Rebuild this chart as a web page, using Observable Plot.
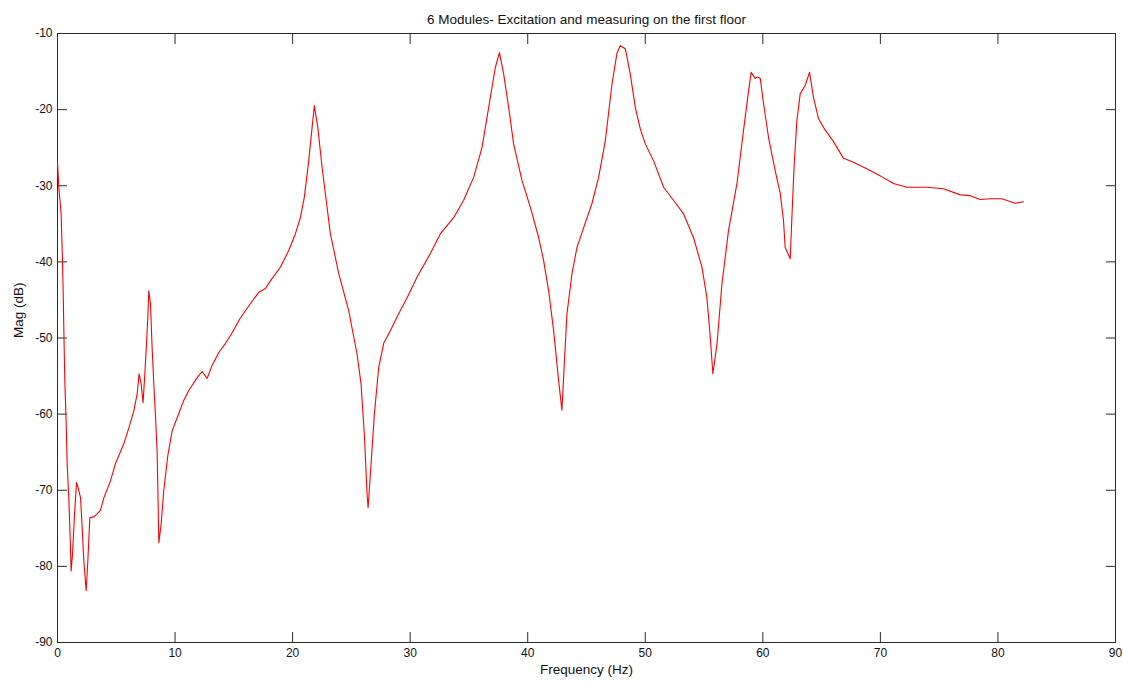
<!DOCTYPE html>
<html>
<head>
<meta charset="utf-8">
<script src="https://cdn.jsdelivr.net/npm/d3@7"></script>
<script src="https://cdn.jsdelivr.net/npm/@observablehq/plot@0.6"></script>
<style>
  html, body { margin: 0; padding: 0; background: #fff; }
  #chart svg { display: block; }
</style>
</head>
<body>
<div id="chart"></div>
<script>
const title = "6 Modules- Excitation and measuring on the first floor";
const xLabel = "Frequency (Hz)";
const yLabel = "Mag (dB)";
const xTicks = [0, 10, 20, 30, 40, 50, 60, 70, 80, 90];
const yTicks = [-90, -80, -70, -60, -50, -40, -30, -20, -10];

const freq = [0,0.11,0.31,0.43,0.48,0.54,0.62,0.74,0.82,0.96,1.05,1.16,1.28,1.45,1.62,1.76,1.96,2.1,2.24,2.44,2.58,2.75,3.09,3.37,3.66,3.94,4.5,4.93,5.64,6.07,6.49,6.78,6.94,7.11,7.28,7.43,7.57,7.68,7.77,7.91,8.05,8.19,8.33,8.48,8.62,8.82,9.04,9.38,9.75,10.17,10.74,11.17,11.88,12.3,12.73,13.15,13.72,14.29,14.86,15.5,16.4,17.12,17.69,18.11,18.96,19.67,20.24,20.66,21,21.37,21.66,21.85,22.14,22.51,22.93,23.21,23.92,24.77,25.48,25.82,26.1,26.33,26.42,26.62,26.96,27.32,27.75,28.32,29.02,29.74,30.59,31.72,32.57,33.7,34.55,35.4,36.11,36.82,37.24,37.59,37.95,38.38,38.8,39.51,40.22,40.93,41.35,41.78,42.2,42.63,42.91,43.11,43.34,43.77,44.19,44.76,45.47,46.03,46.6,47.17,47.59,47.87,48.3,48.72,49.15,49.57,50,50.7,51.56,52.4,53.26,54.1,54.82,55.24,55.53,55.75,56.1,56.52,57.08,57.8,58.36,58.79,59.01,59.35,59.55,59.78,60.06,60.49,61.05,61.48,61.76,61.9,62.33,62.47,62.67,62.9,63.18,63.61,63.97,64.31,64.74,65.31,66.01,66.86,67.71,69.13,69.98,71.11,72.25,73.95,75.37,76.79,77.64,78.49,79.34,80.33,81.46,82.17];
const mag = [-26.9,-30.2,-33.7,-40.2,-43.8,-49,-55.6,-61.2,-66.5,-71,-74.9,-80.6,-78.3,-73.1,-69,-69.7,-71,-74.9,-79.3,-83.2,-79.3,-73.6,-73.5,-73.1,-72.6,-71,-68.8,-66.5,-63.9,-61.8,-59.6,-57.3,-54.7,-56,-58.5,-54.7,-50.8,-47.3,-43.8,-45.5,-51.3,-56,-60,-65.2,-76.9,-74.4,-70,-65.5,-62.2,-60.5,-58.2,-56.9,-55.2,-54.4,-55.3,-53.6,-51.9,-50.7,-49.3,-47.5,-45.5,-44,-43.5,-42.5,-40.7,-38.5,-36.3,-34.2,-31.5,-26.7,-22.3,-19.5,-22.3,-27.6,-32.8,-36.3,-41.5,-46.4,-52.1,-56,-62.6,-70.4,-72.3,-67.8,-59.9,-53.9,-50.7,-49,-46.8,-44.7,-42,-38.9,-36.3,-34.2,-31.9,-28.9,-25,-18.4,-14.5,-12.5,-15.3,-19.7,-24.5,-29.3,-32.8,-36.8,-39.8,-43.8,-49,-55.6,-59.5,-53.4,-46.8,-41.5,-38.1,-35.5,-32.3,-28.9,-24.1,-16.6,-12.6,-11.6,-12,-15.3,-19.7,-22.5,-24.5,-26.7,-30.2,-31.9,-33.7,-36.8,-40.7,-44.7,-49.9,-54.7,-50.8,-42.9,-35.9,-29.7,-22.7,-17.5,-15.1,-15.9,-15.7,-15.9,-19.2,-23.7,-28,-31,-34.6,-38.1,-39.6,-34.2,-27.1,-21.4,-17.9,-16.8,-15.1,-18.4,-21.2,-22.7,-24.2,-26.4,-26.9,-28,-28.7,-29.7,-30.2,-30.2,-30.4,-31.2,-31.3,-31.8,-31.7,-31.7,-32.3,-32.1];

const data = freq.map((f, i) => ({f, m: mag[i]}));
const axisColor = "#2a2a2a";
const noText = () => "";
const plainNum = (d) => String(d);

const chart = Plot.plot({
  width: 1123,
  height: 681,
  marginLeft: 57,
  marginRight: 8,
  marginTop: 33,
  marginBottom: 39,
  style: { fontFamily: "'Liberation Sans', Arial, sans-serif", fontSize: "12px", color: "#111", background: "#fff" },
  x: { domain: [0, 90], axis: null },
  y: { domain: [-90, -10], axis: null },
  marks: [
    Plot.frame({ stroke: axisColor, strokeWidth: 1 }),
    // inward ticks on all four sides
    Plot.axisX(xTicks, { anchor: "bottom", tickSize: 10, dy: -10, tickFormat: noText, label: null, stroke: axisColor }),
    Plot.axisX(xTicks, { anchor: "top", tickSize: 10, dy: 10, tickFormat: noText, label: null, stroke: axisColor }),
    Plot.axisY(yTicks, { anchor: "left", tickSize: 10, dx: 10, tickFormat: noText, label: null, stroke: axisColor }),
    Plot.axisY(yTicks, { anchor: "right", tickSize: 10, dx: -10, tickFormat: noText, label: null, stroke: axisColor }),
    // tick labels
    Plot.axisX(xTicks, { anchor: "bottom", tickSize: 0, tickPadding: 6, label: null, fill: "#111", tickFormat: plainNum, fontSize: 12 }),
    Plot.axisY(yTicks, { anchor: "left", tickSize: 0, tickPadding: 5, label: null, fill: "#111", tickFormat: plainNum, fontSize: 12 }),
    // data line
    Plot.line(data, { x: "f", y: "m", stroke: "#ff0000", strokeWidth: 1.1 }),
    // labels and title
    Plot.text([title], { frameAnchor: "top", dy: -19, fill: "#111", fontSize: 13.5 }),
    Plot.text([xLabel], { frameAnchor: "bottom", dy: 31, fill: "#111", fontSize: 13.5 }),
    Plot.text([yLabel], { frameAnchor: "left", dx: -39, rotate: -90, fill: "#111", fontSize: 13.5 })
  ]
});
document.getElementById("chart").appendChild(chart);
</script>
</body>
</html>
